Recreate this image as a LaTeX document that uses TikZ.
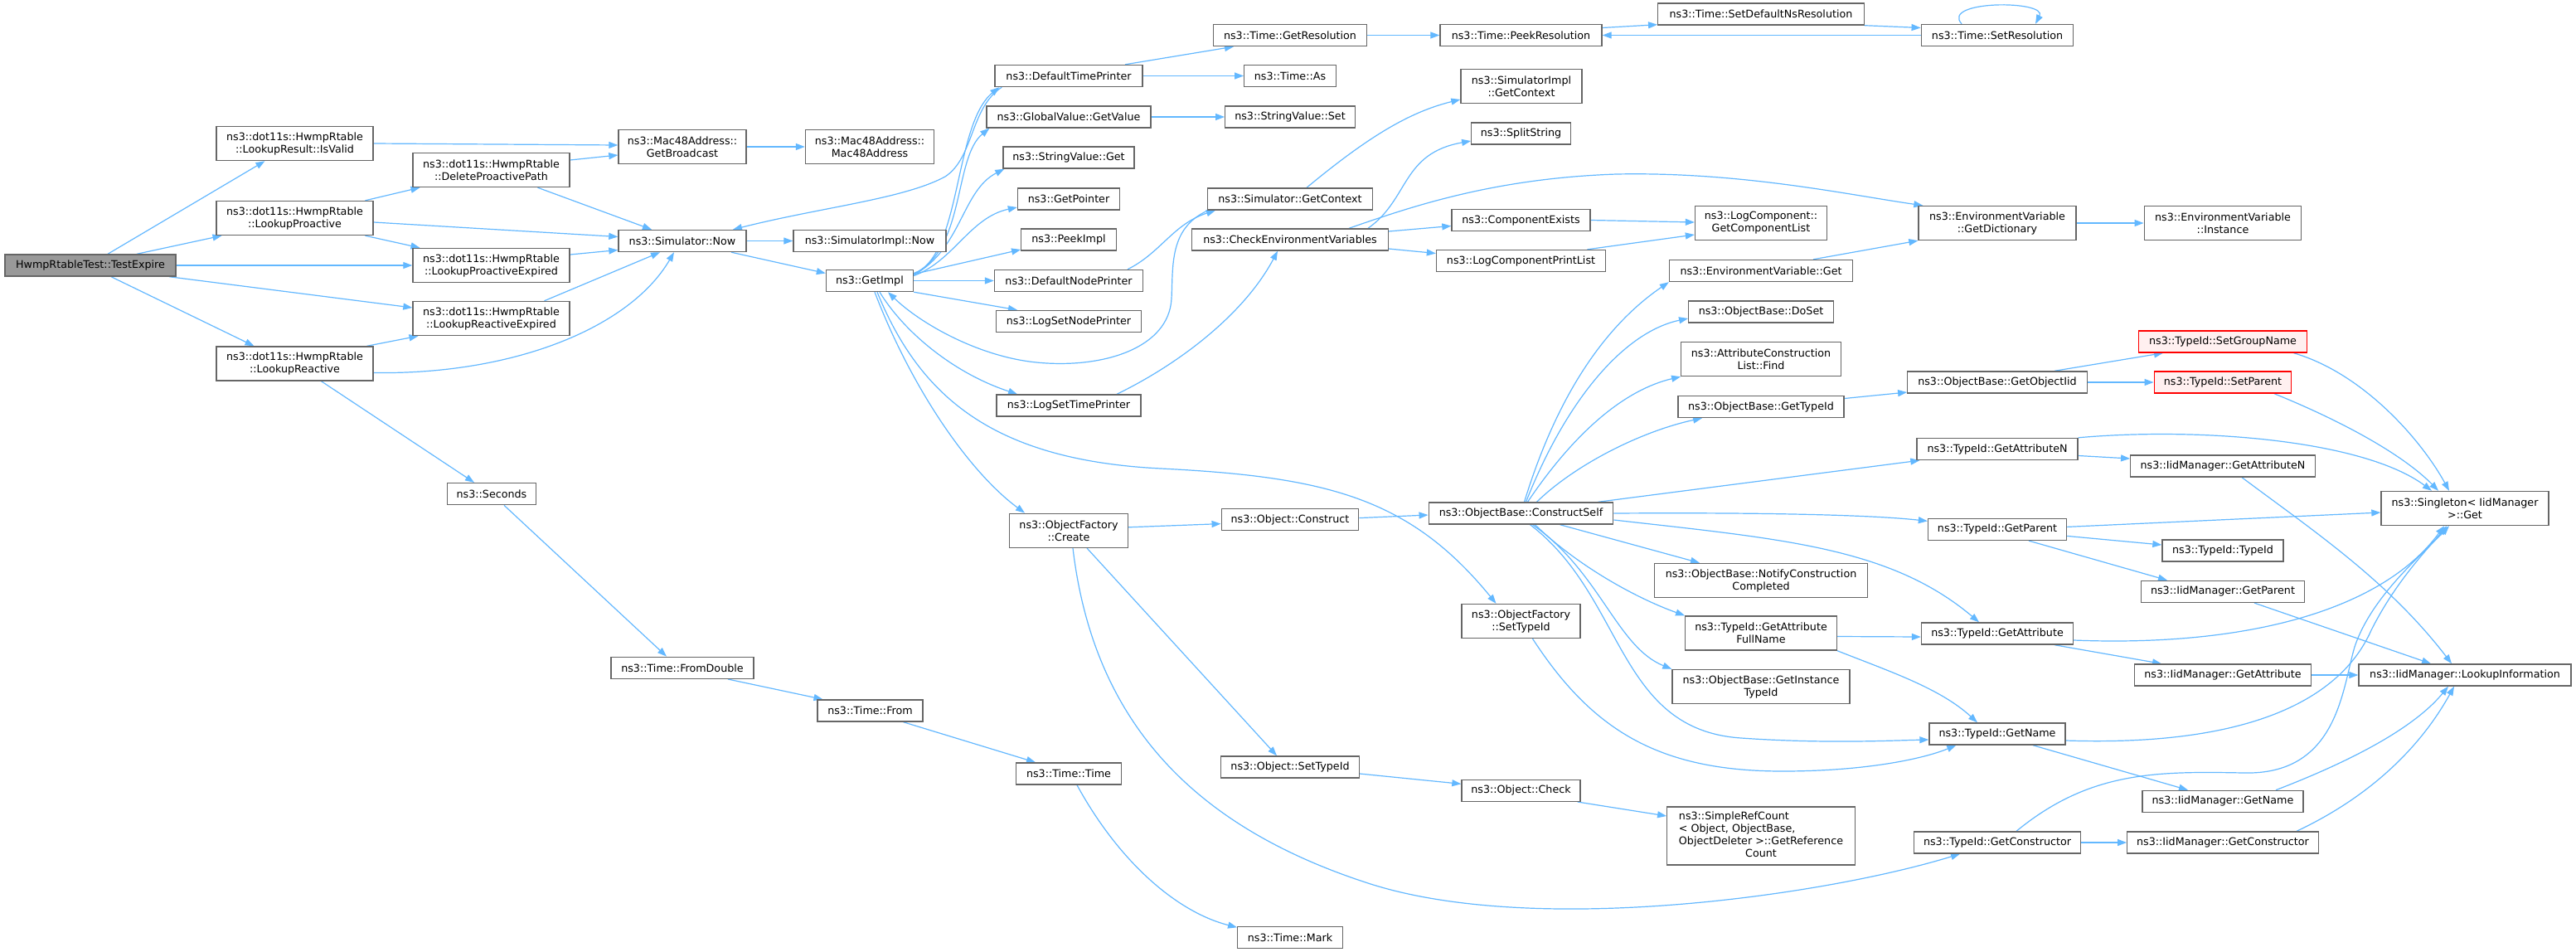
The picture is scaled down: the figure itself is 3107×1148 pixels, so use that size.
\documentclass[tikz,border=0pt]{standalone}
\usepackage{fontspec}
\setmainfont{DejaVu Sans}
\usetikzlibrary{arrows.meta}
\definecolor{edgeblue}{HTML}{63B8FF}
\definecolor{boxgray}{HTML}{666666}
\definecolor{redfill}{HTML}{FFF0F0}
\definecolor{selfgray}{HTML}{999999}
\newcommand\nodefont{\fontsize{12.7}{15}\selectfont}
\pgfdeclarelayer{bg}
\pgfsetlayers{bg,main}
\tikzset{
  box/.style={draw=boxgray, fill=white, line width=1.4pt, inner sep=0pt, align=center, font=\nodefont},
  rbox/.style={box, draw=red},
  conn/.style={draw=edgeblue, line width=1.2pt, -{Triangle[length=11pt,width=8pt]}},
}
\begin{document}
\begin{tikzpicture}[x=1pt,y=-1pt]
\useasboundingbox (0,0) rectangle (3107,1148);
% column 1
\node[box, fill=selfgray, minimum width=206pt, minimum height=26pt] (te) at (109,320) {HwmpRtableTest::TestExpire};
% column 2
\node[box, minimum width=189pt, minimum height=41pt] (isvalid) at (355.5,173) {ns3::dot11s::HwmpRtable\\::LookupResult::IsValid};
\node[box, minimum width=189pt, minimum height=41pt] (lpro) at (355.5,263) {ns3::dot11s::HwmpRtable\\::LookupProactive};
\node[box, minimum width=189pt, minimum height=41pt] (lrea) at (355.5,438.5) {ns3::dot11s::HwmpRtable\\::LookupReactive};
% column 3
\node[box, minimum width=189pt, minimum height=41pt] (delpro) at (592.5,205) {ns3::dot11s::HwmpRtable\\::DeleteProactivePath};
\node[box, minimum width=189pt, minimum height=41pt] (lproexp) at (592.5,320) {ns3::dot11s::HwmpRtable\\::LookupProactiveExpired};
\node[box, minimum width=189pt, minimum height=41pt] (lreaexp) at (592.5,384) {ns3::dot11s::HwmpRtable\\::LookupReactiveExpired};
\node[box, minimum width=107pt, minimum height=26pt] (seconds) at (593,595.6) {ns3::Seconds};
% column 4
\node[box, minimum width=154pt, minimum height=41pt] (getbc) at (823,177) {ns3::Mac48Address::\\GetBroadcast};
\node[box, minimum width=154pt, minimum height=26pt] (simnow) at (823,290.5) {ns3::Simulator::Now};
\node[box, minimum width=172pt, minimum height=26pt] (fromdouble) at (823,805.3) {ns3::Time::FromDouble};
% column 5
\node[box, minimum width=155pt, minimum height=41pt] (mac48) at (1049,177) {ns3::Mac48Address::\\Mac48Address};
\node[box, minimum width=184pt, minimum height=26pt] (simimplnow) at (1049,290.5) {ns3::SimulatorImpl::Now};
\node[box, minimum width=105pt, minimum height=26pt] (getimpl) at (1049,338.5) {ns3::GetImpl};
\node[box, minimum width=127pt, minimum height=26pt] (timefrom) at (1049.5,857) {ns3::Time::From};
% column 6
\node[box, minimum width=178pt, minimum height=26pt] (deftp) at (1289,91.5) {ns3::DefaultTimePrinter};
\node[box, minimum width=198pt, minimum height=26pt] (gv) at (1289,141) {ns3::GlobalValue::GetValue};
\node[box, minimum width=158pt, minimum height=26pt] (svget) at (1289,190) {ns3::StringValue::Get};
\node[box, minimum width=123pt, minimum height=26pt] (getptr) at (1289,240) {ns3::GetPointer};
\node[box, minimum width=114.5pt, minimum height=26pt] (peekimpl) at (1289,289) {ns3::PeekImpl};
\node[box, minimum width=179pt, minimum height=26pt] (defnp) at (1289,338.5) {ns3::DefaultNodePrinter};
\node[box, minimum width=175pt, minimum height=26pt] (logsnp) at (1289,387.5) {ns3::LogSetNodePrinter};
\node[box, minimum width=174pt, minimum height=26pt] (logstp) at (1289,489) {ns3::LogSetTimePrinter};
\node[box, minimum width=143pt, minimum height=41pt] (create) at (1289,639.8) {ns3::ObjectFactory\\::Create};
\node[box, minimum width=127pt, minimum height=26pt] (timetime) at (1289,933) {ns3::Time::Time};
% column 7
\node[box, minimum width=185pt, minimum height=26pt] (getres) at (1556,42.5) {ns3::Time::GetResolution};
\node[box, minimum width=110.5pt, minimum height=26pt] (timeas) at (1556,91.5) {ns3::Time::As};
\node[box, minimum width=156.5pt, minimum height=26pt] (svset) at (1556,141) {ns3::StringValue::Set};
\node[box, minimum width=198.5pt, minimum height=26pt] (simgetctx) at (1556,240) {ns3::Simulator::GetContext};
\node[box, minimum width=236.5pt, minimum height=26pt] (checkenv) at (1556,289) {ns3::CheckEnvironmentVariables};
\node[box, minimum width=165.5pt, minimum height=26pt] (objconstruct) at (1556,626.6) {ns3::Object::Construct};
\node[box, minimum width=166.5pt, minimum height=26pt] (objsettypeid) at (1556,925) {ns3::Object::SetTypeId};
\node[box, minimum width=126.5pt, minimum height=26pt] (mark) at (1556,1130.3) {ns3::Time::Mark};
% column 8
\node[box, minimum width=195pt, minimum height=26pt] (peekres) at (1834.5,42.5) {ns3::Time::PeekResolution};
\node[box, minimum width=146pt, minimum height=41pt] (simimplgetctx) at (1835,104) {ns3::SimulatorImpl\\::GetContext};
\node[box, minimum width=119.5pt, minimum height=26pt] (splitstring) at (1834.5,161) {ns3::SplitString};
\node[box, minimum width=167pt, minimum height=26pt] (compexists) at (1834.5,265.5) {ns3::ComponentExists};
\node[box, minimum width=204pt, minimum height=26pt] (logcpl) at (1834.5,314.5) {ns3::LogComponentPrintList};
\node[box, minimum width=222.5pt, minimum height=26pt] (constructself) at (1834.5,619) {ns3::ObjectBase::ConstructSelf};
\node[box, minimum width=143pt, minimum height=41pt] (ofsettypeid) at (1834.5,749) {ns3::ObjectFactory\\::SetTypeId};
\node[box, minimum width=143pt, minimum height=26pt] (objcheck) at (1834.5,953.3) {ns3::Object::Check};
% column 9
\node[box, minimum width=248.5pt, minimum height=26pt] (setdefns) at (2124,17) {ns3::Time::SetDefaultNsResolution};
\node[box, minimum width=159pt, minimum height=41pt] (getcl) at (2124,269) {ns3::LogComponent::\\GetComponentList};
\node[box, minimum width=221pt, minimum height=26pt] (envget) at (2124,326.5) {ns3::EnvironmentVariable::Get};
\node[box, minimum width=174.5pt, minimum height=26pt] (doset) at (2124,376) {ns3::ObjectBase::DoSet};
\node[box, minimum width=192.5pt, minimum height=41pt] (attrfind) at (2124,433) {ns3::AttributeConstruction\\List::Find};
\node[box, minimum width=200pt, minimum height=26pt] (obgettypeid) at (2124,490.5) {ns3::ObjectBase::GetTypeId};
\node[box, minimum width=257pt, minimum height=41pt] (notify) at (2124,700) {ns3::ObjectBase::NotifyConstruction\\Completed};
\node[box, minimum width=182.5pt, minimum height=41pt] (fullname) at (2124,763.5) {ns3::TypeId::GetAttribute\\FullName};
\node[box, minimum width=214pt, minimum height=41pt] (getinsttypeid) at (2124,828) {ns3::ObjectBase::GetInstance\\TypeId};
\node[box, minimum width=226.5pt, minimum height=70pt] (simplerefcount) at (2124,1008) {\begin{tabular}{@{}l@{}}ns3::SimpleRefCount\\< Object, ObjectBase,\\ObjectDeleter >::GetReference\\\multicolumn{1}{@{}c@{}}{Count}\end{tabular}};
% column 10
\node[box, minimum width=183.5pt, minimum height=26pt] (setres) at (2409,42.5) {ns3::Time::SetResolution};
\node[box, minimum width=190pt, minimum height=41pt] (getdict) at (2409,269) {ns3::EnvironmentVariable\\::GetDictionary};
\node[box, minimum width=216.5pt, minimum height=26pt] (getobjiid) at (2409,461) {ns3::ObjectBase::GetObjectIid};
\node[box, minimum width=194pt, minimum height=26pt] (tgetattrn) at (2409,541.5) {ns3::TypeId::GetAttributeN};
\node[box, minimum width=167pt, minimum height=26pt] (tgetparent) at (2409,638.4) {ns3::TypeId::GetParent};
\node[box, minimum width=183pt, minimum height=26pt] (tgetattr) at (2409,764) {ns3::TypeId::GetAttribute};
\node[box, minimum width=164pt, minimum height=26pt] (getname) at (2409,885) {ns3::TypeId::GetName};
\node[box, minimum width=201pt, minimum height=26pt] (getctor) at (2409,1016) {ns3::TypeId::GetConstructor};
% column 11
\node[box, minimum width=189.5pt, minimum height=41pt] (instance) at (2681,269) {ns3::EnvironmentVariable\\::Instance};
\node[rbox, fill=redfill, minimum width=203.5pt, minimum height=26pt] (setgroupname) at (2681,412) {ns3::TypeId::SetGroupName};
\node[rbox, fill=redfill, minimum width=165.5pt, minimum height=26pt] (setparent) at (2681,461) {ns3::TypeId::SetParent};
\node[box, minimum width=222.5pt, minimum height=26pt] (igetattrn) at (2681,562) {ns3::IidManager::GetAttributeN};
\node[box, minimum width=146pt, minimum height=26pt] (typeidtypeid) at (2681,664) {ns3::TypeId::TypeId};
\node[box, minimum width=197.5pt, minimum height=26pt] (igetparent) at (2681,713.4) {ns3::IidManager::GetParent};
\node[box, minimum width=213.5pt, minimum height=26pt] (igetattr) at (2681,814) {ns3::IidManager::GetAttribute};
\node[box, minimum width=194pt, minimum height=26pt] (igetname) at (2681,966.4) {ns3::IidManager::GetName};
\node[box, minimum width=230.5pt, minimum height=26pt] (igetctor) at (2681,1016) {ns3::IidManager::GetConstructor};
% column 12
\node[box, minimum width=202pt, minimum height=41pt] (singleton) at (2973,613) {ns3::Singleton< IidManager\\>::Get};
\node[box, minimum width=256pt, minimum height=26pt] (lookup) at (2973,814) {ns3::IidManager::LookupInformation};

\begin{pgfonlayer}{bg}
\fill[white] (0,0) rectangle (3107,1148);
% from TestExpire
\draw[conn] ([xshift=21pt]te.north) -- ([xshift=-36pt]isvalid.south);
\draw[conn] ([xshift=56pt]te.north) -- ([xshift=-88pt]lpro.south);
\draw[conn] (te.east) -- (lproexp.west);
\draw[conn] ([xshift=95pt]te.south) -- ([yshift=13pt]lreaexp.west);
\draw[conn] ([xshift=25pt]te.south) -- ([xshift=-49pt]lrea.north);
% HwmpRtable
\draw[conn] (isvalid.east) -- ([yshift=2pt]getbc.west);
\draw[conn] ([xshift=85pt]lpro.north) -- ([xshift=-86pt]delpro.south);
\draw[conn] ([yshift=-5pt]lpro.east) -- ([yshift=5pt]simnow.west);
\draw[conn] ([xshift=85pt]lpro.south) -- ([xshift=-86pt]lproexp.north);
\draw[conn] ([yshift=12pt]delpro.east) -- ([yshift=-10pt]getbc.west);
\draw[conn] ([xshift=56pt]delpro.south) -- ([xshift=-37pt]simnow.north);
\draw[conn] ([yshift=13pt]lproexp.east) -- ([yshift=-11pt]simnow.west);
\draw[conn] ([xshift=64pt]lreaexp.north) -- ([xshift=-27pt]simnow.south);
\draw[conn] ([xshift=87pt]lrea.north) -- ([xshift=-88pt]lreaexp.south);
\draw[conn] ([yshift=-11pt]lrea.east) .. controls (620,452) and (760,395) .. ([xshift=-10pt]simnow.south);
\draw[conn] ([xshift=32pt]lrea.south) -- ([xshift=-21pt]seconds.north);
\draw[conn] (getbc.east) -- (mac48.west);
\draw[conn] (simnow.east) -- (simimplnow.west);
\draw[conn] ([xshift=59pt]simnow.south) -- ([yshift=9pt]getimpl.west);
% GetImpl fan
\draw[conn] ([yshift=9pt]getimpl.east) .. controls (1160,310) and (1150,150) .. ([xshift=6pt]deftp.south west);
\draw[conn] ([yshift=8pt]getimpl.east) .. controls (1165,300) and (1150,190) .. ([xshift=4pt]gv.south west);
\draw[conn] ([yshift=7pt]getimpl.east) .. controls (1160,300) and (1160,230) .. ([xshift=2pt]svget.south west);
\draw[conn] ([yshift=6pt]getimpl.east) .. controls (1150,315) and (1170,262) .. ([yshift=-10pt]getptr.west);
\draw[conn] ([yshift=8pt]getimpl.east) -- ([yshift=-12pt]peekimpl.west);
\draw[conn] (getimpl.east) -- (defnp.west);
\draw[conn] (getimpl.south east) -- ([xshift=-62pt]logsnp.north);
\draw[conn] ([xshift=12pt]getimpl.south) .. controls (1090,400) and (1150,450) .. ([xshift=-62pt]logstp.north);
\draw[conn] ([xshift=6pt]getimpl.south) .. controls (1100,470) and (1170,570) .. ([xshift=-53pt]create.north);
\draw[conn] ([xshift=9pt]getimpl.south) .. controls (1110,480) and (1200,555) .. (1400,565) .. controls (1600,575) and (1700,600) .. ([xshift=-30pt]ofsettypeid.north);
\draw[conn] ([xshift=1pt]simgetctx.south west) .. controls (1410,275) and (1415,320) .. (1413,360) .. controls (1410,420) and (1330,445) .. (1250,437) .. controls (1180,430) and (1110,390) .. ([xshift=22pt]getimpl.south);
\draw[conn] ([xshift=71pt]defnp.north) .. controls (1400,305) and (1415,270) .. ([xshift=10pt]simgetctx.south west);
\draw[conn] ([xshift=9pt]deftp.south west) .. controls (1170,130) and (1175,190) .. (1140,213) .. controls (1090,240) and (990,250) .. ([xshift=61pt]simnow.north);
\draw[conn] ([xshift=68pt]deftp.north) -- ([xshift=-68pt]getres.south);
\draw[conn] (deftp.east) -- (timeas.west);
\draw[conn] (gv.east) -- (svset.west);
\draw[conn] ([xshift=20pt]simgetctx.north) .. controls (1650,165) and (1700,135) .. ([yshift=-16pt]simimplgetctx.west);
\draw[conn] ([xshift=58pt]logstp.north) .. controls (1420,440) and (1500,380) .. ([xshift=-15pt]checkenv.south);
% CheckEnvironmentVariables
\draw[conn] ([xshift=94pt]checkenv.north) .. controls (1700,240) and (1690,185) .. ([yshift=-9pt]splitstring.west);
\draw[conn] ([xshift=71pt]checkenv.north) .. controls (1700,250) and (1800,215) .. (1950,210) .. controls (2100,207) and (2230,235) .. ([xshift=6pt]getdict.north west);
\draw[conn] ([yshift=10pt]checkenv.east) -- ([yshift=-7pt]compexists.west);
\draw[conn] ([yshift=-11pt]checkenv.east) -- ([yshift=9pt]logcpl.west);
\draw[conn] (compexists.east) -- ([yshift=1pt]getcl.west);
\draw[conn] ([xshift=80pt]logcpl.north) -- ([yshift=-14pt]getcl.west);
\draw[conn] ([xshift=63pt]envget.north) -- (getdict.south west);
\draw[conn] (getdict.east) -- (instance.west);
% Time resolution
\draw[conn] (getres.east) -- (peekres.west);
\draw[conn] ([yshift=9pt]peekres.east) -- ([yshift=1pt]setdefns.south west);
\draw[conn] (setdefns.south east) -- ([yshift=9pt]setres.west);
\draw[conn] (setres.west) -- (peekres.east);
\draw[conn] ([xshift=-43pt]setres.north) .. controls (2340,0) and (2470,0) .. ([xshift=46pt]setres.north);
% ObjectFactory
\draw[conn] ([yshift=4pt]create.east) -- ([yshift=-5pt]objconstruct.west);
\draw[conn] ([xshift=22pt]create.south) -- ([xshift=-16pt]objsettypeid.north);
\draw[conn] ([xshift=5pt]create.south) .. controls (1320,880) and (1450,1000) .. (1650,1065) .. controls (1850,1130) and (2200,1080) .. ([xshift=-45pt]getctor.south);
\draw[conn] ([yshift=2pt]objconstruct.east) -- ([yshift=-2pt]constructself.west);
\draw[conn] ([yshift=-8pt]objsettypeid.east) -- ([yshift=8pt]objcheck.west);
\draw[conn] ([xshift=-4pt]objcheck.south east) -- ([yshift=24pt]simplerefcount.west);
\draw[conn] ([xshift=14pt]ofsettypeid.south) .. controls (1920,880) and (2000,930) .. (2150,930) .. controls (2250,930) and (2320,915) .. ([xshift=33pt]getname.south west);
% ConstructSelf fan
\draw[conn] ([xshift=4pt]constructself.north) .. controls (1880,470) and (1940,390) .. (envget.south west);
\draw[conn] ([xshift=6pt]constructself.north) .. controls (1890,480) and (1960,400) .. ([yshift=-8pt]doset.west);
\draw[conn] ([xshift=8pt]constructself.north) .. controls (1900,520) and (1960,470) .. (attrfind.south west);
\draw[conn] ([xshift=19pt]constructself.north) .. controls (1900,560) and (1980,520) .. ([xshift=-71pt]obgettypeid.south);
\draw[conn] ([xshift=93pt]constructself.north) -- ([xshift=4pt]tgetattrn.south west);
\draw[conn] (constructself.east) .. controls (2100,618) and (2250,620) .. ([yshift=10pt]tgetparent.west);
\draw[conn] ([yshift=-8pt]constructself.east) .. controls (2150,650) and (2280,660) .. ([xshift=-22pt]tgetattr.north);
\draw[conn] ([xshift=47pt]constructself.south) -- ([xshift=-74pt]notify.north);
\draw[conn] ([xshift=17pt]constructself.south) .. controls (1900,680) and (1970,720) .. (fullname.north west);
\draw[conn] ([xshift=14pt]constructself.south) .. controls (1930,690) and (1950,780) .. (getinsttypeid.north west);
\draw[conn] ([xshift=11pt]constructself.south) .. controls (1960,720) and (1950,880) .. (2100,890) .. controls (2200,897) and (2280,893) .. ([yshift=-7pt]getname.west);
% TypeId region
\draw[conn] ([yshift=10pt]obgettypeid.east) -- ([yshift=-12pt]getobjiid.west);
\draw[conn] ([xshift=69pt]getobjiid.north) -- ([xshift=-72pt]setgroupname.south);
\draw[conn] (getobjiid.east) -- (setparent.west);
\draw[conn] ([xshift=-17pt]setgroupname.south east) .. controls (2850,450) and (2920,530) .. ([xshift=-19pt]singleton.north);
\draw[conn] ([xshift=62pt]setparent.south) .. controls (2830,510) and (2900,550) .. ([xshift=-32pt]singleton.north);
\draw[conn] (tgetattrn.north east) .. controls (2650,515) and (2850,530) .. ([xshift=-40pt]singleton.north);
\draw[conn] ([yshift=-8pt]tgetattrn.east) -- ([yshift=9pt]igetattrn.west);
\draw[conn] ([xshift=23pt]igetattrn.south) .. controls (2790,640) and (2880,700) .. ([xshift=-16pt]lookup.north);
\draw[conn] ([yshift=3pt]tgetparent.east) -- ([yshift=-5pt]singleton.west);
\draw[conn] ([yshift=-8pt]tgetparent.east) -- ([yshift=7pt]typeidtypeid.west);
\draw[conn] ([xshift=38pt]tgetparent.south) -- ([xshift=-67pt]igetparent.north);
\draw[conn] ([xshift=38pt]igetparent.south) -- ([xshift=-41pt]lookup.north);
\draw[conn] ([yshift=-8pt]tgetattr.east) .. controls (2700,780) and (2870,740) .. ([xshift=-25pt]singleton.south);
\draw[conn] ([xshift=69pt]tgetattr.south) -- ([xshift=-74pt]igetattr.north);
\draw[conn] ([yshift=-4pt]fullname.east) -- ([yshift=-4pt]tgetattr.west);
\draw[conn] (fullname.south east) .. controls (2280,810) and (2340,830) .. ([xshift=-24pt]getname.north);
\draw[conn] (igetattr.east) -- (lookup.west);
\draw[conn] ([yshift=-8pt]getname.east) .. controls (2700,900) and (2820,850) .. (2860,760) .. controls (2890,700) and (2930,660) .. ([xshift=-22pt]singleton.south);
\draw[conn] ([xshift=43pt]getname.south) -- ([xshift=-42pt]igetname.north);
\draw[conn] ([xshift=64pt]igetname.north) .. controls (2830,920) and (2910,880) .. ([xshift=-20pt]lookup.south);
\draw[conn] ([xshift=23pt]getctor.north) .. controls (2520,930) and (2600,930) .. (2706,932) .. controls (2820,935) and (2825,830) .. (2840,780) .. controls (2860,720) and (2920,670) .. ([xshift=-19pt]singleton.south);
\draw[conn] (getctor.east) -- (igetctor.west);
\draw[conn] ([xshift=89pt]igetctor.north) .. controls (2860,960) and (2920,900) .. ([xshift=-13pt]lookup.south);
% Seconds chain
\draw[conn] ([xshift=15pt]seconds.south) -- ([xshift=-19pt]fromdouble.north);
\draw[conn] ([xshift=55pt]fromdouble.south) -- ([xshift=-57pt]timefrom.north);
\draw[conn] ([xshift=40pt]timefrom.south) -- ([xshift=-40pt]timetime.north);
\draw[conn] ([xshift=10pt]timetime.south) .. controls (1350,1040) and (1420,1100) .. ([yshift=12pt]mark.west);
\end{pgfonlayer}
\end{tikzpicture}
\end{document}
